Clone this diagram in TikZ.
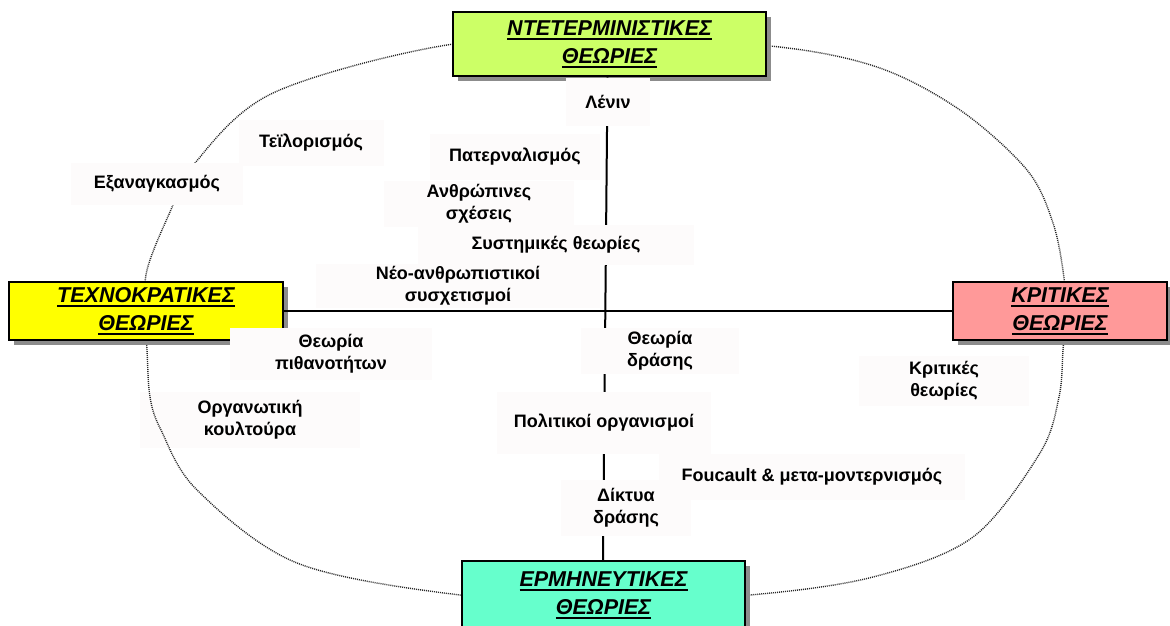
\documentclass[tikz,border=0pt]{standalone}
\usepackage{fontspec}
\setmainfont{Liberation Sans}
\usetikzlibrary{shadows}

\definecolor{detgreen}{RGB}{204,255,102}
\definecolor{techyellow}{RGB}{255,255,0}
\definecolor{critpink}{RGB}{255,153,153}
\definecolor{hermaqua}{RGB}{102,255,204}
\definecolor{lblbg}{RGB}{253,251,251}
\definecolor{rimgray}{RGB}{40,40,40}

% thick underline for the school titles
\newcommand\titleline[1]{\setbox0=\hbox{#1}\rlap{\rule[-4.5pt]{\wd0}{2pt}}\box0}

\tikzset{
  school/.style={draw=black, line width=2pt, align=center, inner sep=0pt,
    font=\fontsize{21.5}{28}\selectfont\bfseries\itshape,
    drop shadow={shadow xshift=5pt, shadow yshift=-5pt, fill=black!45, opacity=1}},
  topic/.style={fill=lblbg, align=center, inner sep=0pt,
    font=\fontsize{18}{22}\selectfont\bfseries},
  rim/.style={draw=rimgray, line width=1.4pt, dash pattern=on 1pt off 1pt},
  axis/.style={draw=black, line width=2pt}
}

\begin{document}
\begin{tikzpicture}[x=1pt,y=-1pt]
\useasboundingbox (0,0) rectangle (1170,626);

% label that lies under the dotted rim
\node[topic, minimum width=220pt, minimum height=56pt] (org) at (250,420) {Οργανωτική\\κουλτούρα};

% dotted rim around the field
\draw[rim] plot[smooth cycle, tension=0.55] coordinates {
  (605,40) (770,46) (877,67) (960,110) (1027,170) (1053,223) (1064,278)
  (1065,315) (1063,350) (1059,397) (1040,453) (973,537) (873,577) (750,595)
  (605,601) (460,595) (297,563) (197,490) (161,430) (150,397) (147,350)
  (145,315) (147,270) (170,212) (195,163) (273,93) (447,45)};

% the four schools
\node[school, fill=detgreen, minimum width=313pt, minimum height=64pt] (det) at (609.5,44.5)
  {\titleline{ΝΤΕΤΕΡΜΙΝΙΣΤΙΚΕΣ}\\\titleline{ΘΕΩΡΙΕΣ}};
\node[school, fill=techyellow, minimum width=274pt, minimum height=58pt] (tech) at (146,311)
  {\titleline{ΤΕΧΝΟΚΡΑΤΙΚΕΣ}\\\titleline{ΘΕΩΡΙΕΣ}};
\node[school, fill=critpink, minimum width=214pt, minimum height=58pt] (crit) at (1060,311)
  {\titleline{ΚΡΙΤΙΚΕΣ}\\\titleline{ΘΕΩΡΙΕΣ}};
\node[school, fill=hermaqua, minimum width=283pt, minimum height=68pt] (herm) at (603.5,595)
  {\titleline{ΕΡΜΗΝΕΥΤΙΚΕΣ}\\\titleline{ΘΕΩΡΙΕΣ}};

% axes
\draw[axis] (tech.east) -- (crit.west);
\draw[axis] ([xshift=-2pt]det.south) -- ([xshift=-0.5pt]herm.north);

% theories placed on the field
\node[topic, minimum width=84pt,  minimum height=48pt] (lenin)  at (608,102) {Λένιν};
\node[topic, minimum width=145pt, minimum height=46pt] (taylor) at (311,143) {Τεϊλορισμός};
\node[topic, minimum width=170pt, minimum height=46pt] (pater)  at (515,157) {Πατερναλισμός};
\node[topic, minimum width=172pt, minimum height=42pt] (exan)   at (157,184) {Εξαναγκασμός};
\node[topic, minimum width=190pt, minimum height=46pt] (anthr)  at (479,204) {Ανθρώπινες\\σχέσεις};
\node[topic, minimum width=276pt, minimum height=40pt] (syst)   at (556,245) {Συστημικές θεωρίες};
\node[topic, minimum width=284pt, minimum height=44pt] (neo)    at (458,286) {Νέο-ανθρωπιστικοί\\συσχετισμοί};
\node[topic, minimum width=202pt, minimum height=52pt] (pith)   at (331,354) {Θεωρία\\πιθανοτήτων};
\node[topic, minimum width=158pt, minimum height=46pt] (dras)   at (660,351) {Θεωρία\\δράσης};
\node[topic, minimum width=170pt, minimum height=50pt] (crits)  at (944,381) {Κριτικές\\θεωρίες};
\node[topic, minimum width=214pt, minimum height=62pt] (polit)  at (604,423) {Πολιτικοί οργανισμοί};
\node[topic, minimum width=306pt, minimum height=46pt] (fouc)   at (812,477) {Foucault \& μετα-μοντερνισμός};
\node[topic, minimum width=130pt, minimum height=56pt] (dikt)   at (626,508) {Δίκτυα\\δράσης};
\end{tikzpicture}
\end{document}
